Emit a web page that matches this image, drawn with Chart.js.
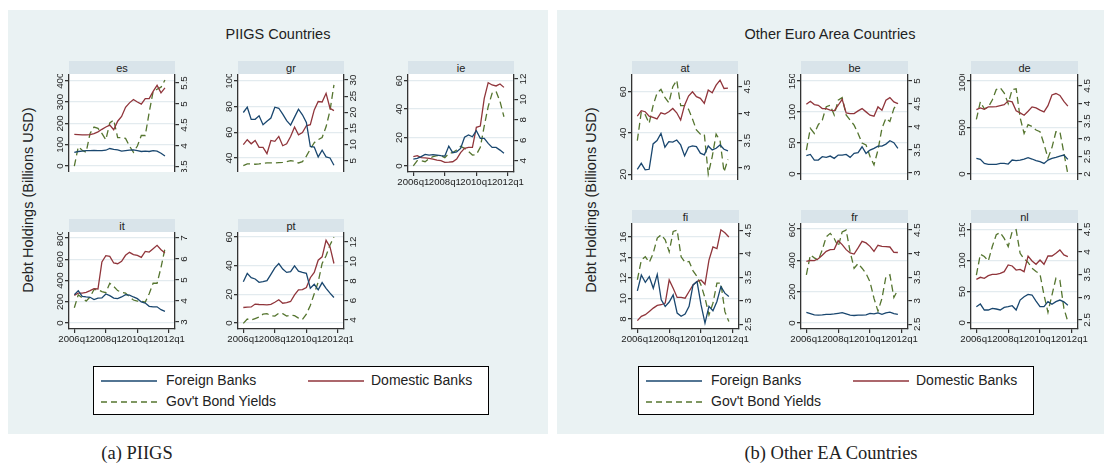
<!DOCTYPE html>
<html><head><meta charset="utf-8">
<script src="https://cdn.jsdelivr.net/npm/chart.js@4.4.1/dist/chart.umd.min.js"></script>
<style>
body{margin:0;width:1111px;height:476px;background:#fff;position:relative;overflow:hidden;font-family:"Liberation Sans",Arial,sans-serif;color:#222;}
.panel{position:absolute;background:#eaf2f3;}
.title{position:absolute;transform:translateX(-50%);font-size:14.5px;white-space:nowrap;}
.ytitle{position:absolute;transform:translate(-50%,-50%) rotate(-90deg);font-size:14.5px;white-space:nowrap;}
.strip{position:absolute;background:#d9e4ea;text-align:center;font-size:11px;line-height:14px;}
canvas{position:absolute;}
.legend{position:absolute;background:#fff;border:1px solid #000;box-sizing:border-box;}
.legend svg{position:absolute;}
.legend span{position:absolute;font-size:14px;white-space:nowrap;}
.caption{position:absolute;font-family:"Liberation Serif","DejaVu Serif",serif;font-size:18.5px;transform:translateX(-50%);white-space:nowrap;}
</style></head><body>
<script>
// Quarterly observations, 2006q1 - 2011q4
const quarters = ['2006q1','2006q2','2006q3','2006q4','2007q1','2007q2','2007q3','2007q4',
  '2008q1','2008q2','2008q3','2008q4','2009q1','2009q2','2009q3','2009q4',
  '2010q1','2010q2','2010q3','2010q4','2011q1','2011q2','2011q3','2011q4'];
const xTickPos = [0, 8, 16, 24];
const xTickLabels = ['2006q1','2008q1','2010q1','2012q1'];
const seriesNames = ['Foreign Banks', 'Domestic Banks', "Gov't Bond Yields"];

// Debt holdings (billions USD) and 10y government bond yields (%)
const esForeign  = [64,68,70,72,72,73,72,72,74,82,78,76,70,72,74,76,72,68,70,68,72,70,60,47];
const esDomestic = [148,147,146,146,147,152,160,172,183,192,170,210,232,275,296,312,300,290,316,316,350,378,343,366];
const esYield    = [3.52,3.98,3.9,3.85,4.3,4.45,4.42,4.3,4.15,4.55,4.62,4.2,4.2,4.18,4.0,3.85,4.0,4.25,4.25,4.8,5.3,5.35,5.4,5.57];
const esDebtTicks = [0,100,200,300,400];
const esYieldTicks = [3.5,4,4.5,5,5.5];

const grForeign  = [75.3,79.4,70,70,72.7,65.8,68.5,71,79.4,78.6,74,69,65.5,71.7,77.9,73.5,67.6,49,48.5,40.8,46,40.8,40,34.3];
const grDomestic = [50.3,54.2,51,53.6,48.2,48.2,43.3,53.6,52.9,56.7,49.5,51,56.7,64,58,59.8,65,65.8,77.3,83.8,83.5,90.2,78.6,76.8];
const grYield    = [3.5,4.0,4.0,3.9,4.0,4.2,4.3,4.3,4.3,4.4,4.5,4.7,5.0,4.8,4.3,4.7,6.4,8.6,10.6,11.5,12.2,15.5,20.5,28.5];
const grDebtTicks = [40,60,80,100];
const grYieldTicks = [5,10,15,20,25,30];

const ieForeign  = [4.9,5.4,6.6,8.2,7.7,8.0,7.7,7.3,7.0,14.0,9.4,10.0,12.4,20.2,21.8,20.6,24.8,19.5,19.5,15.9,13.1,13.1,11.2,8.9];
const ieDomestic = [6.6,7.3,5.9,5.8,5.4,4.8,4.2,3.8,2.6,2.7,3.0,4.9,9.4,12.4,13.1,13.1,27.2,28.1,47.6,58.6,57.0,56.3,57.7,55.3];
const ieYield    = [3.5,4.0,4.0,3.9,4.2,4.4,4.5,4.5,4.3,4.7,4.8,5.05,5.4,5.2,4.9,4.55,4.6,5.3,7.4,9.3,10.6,10.8,9.8,8.3];
const ieDebtTicks = [0,20,40,60];
const ieYieldTicks = [4,6,8,10,12];

const itForeign  = [267,304,251,245,242,220,235,236,273,257,235,229,245,267,262,245,229,198,188,157,151,152,125,110];
const itDomestic = [260,282,282,289,304,323,320,574,634,627,565,558,580,637,665,643,637,618,674,668,699,731,690,659];
const itYield    = [3.68,4.3,4.15,4.0,4.2,4.55,4.55,4.45,4.4,4.85,4.7,4.5,4.42,4.38,4.2,4.05,4.0,4.0,3.95,4.35,4.85,4.85,5.6,6.5];
const itDebtTicks = [0,200,400,600,800];
const itYieldTicks = [3,4,5,6,7];

const ptForeign  = [28.8,34.6,31.6,30.7,28.4,28.8,29.5,33.9,38.5,41.5,37.6,35.3,35.8,39.9,36.2,35.3,34.6,24.2,27,23.1,28.2,24.2,20.8,17.8];
const ptDomestic = [10.8,11.1,11.2,13.2,12.9,12.8,12.7,13.0,14.5,16.2,13.8,14.2,15.0,19.6,23.1,23.3,24.7,31.6,35.3,43.8,46.2,57.7,53.1,41.5];
const ptYield    = [3.66,4.1,4.0,4.15,4.3,4.6,4.65,4.45,4.4,4.7,4.65,4.4,4.5,4.45,4.2,4.05,4.6,5.5,6.7,7.9,9.8,10.6,11.7,12.5];
const ptDebtTicks = [0,20,40,60];
const ptYieldTicks = [4,6,8,10,12];

const atForeign  = [22.4,25.3,22.1,22.4,34.7,36.3,39.8,33.1,35.8,35.6,36.6,34.2,28.9,33.1,33.7,33.4,30.2,29.4,33.7,31.8,32.6,34.2,32.1,31.3];
const atDomestic = [48.2,50.8,50.3,48.2,47.6,46.8,49.8,49.2,50.3,51.9,49.8,46.3,53.5,57.9,60,57.6,56.8,54.4,60.8,59.5,63.2,65.6,61.6,61.8];
const atYield    = [3.5,4.03,3.98,3.82,4.15,4.38,4.45,4.3,4.2,4.5,4.62,4.15,4.15,4.08,3.9,3.7,3.62,3.62,2.88,3.2,3.62,3.5,2.92,3.15];
const atDebtTicks = [20,40,60];
const atYieldTicks = [3,3.5,4,4.5];

const beForeign  = [29.5,31.6,22.5,22.5,27.9,26.8,28.9,25.2,30.5,30.5,31.6,26.8,33.2,34.3,43.9,33.2,38.6,41.3,45,45,48.2,53.6,50.4,41.3];
const beDomestic = [112.5,117.3,112,110.9,105.5,105.5,102.9,101.8,110.9,120.5,98.6,97.5,97.5,101.8,105.5,100.2,94.8,93.2,108.2,102.9,118.9,123.2,116.3,113.6];
const beYield    = [3.5,3.97,3.86,4.05,4.15,4.44,4.47,4.26,4.58,4.64,4.26,4.15,4.04,3.86,3.65,3.61,3.36,3.18,3.5,3.97,4.19,4.12,4.4,4.52];
const beDebtTicks = [0,50,100,150];
const beYieldTicks = [3,3.5,4,4.5,5];

const deForeign  = [168,157,114,104,104,104,114,114,107,150,143,150,161,175,161,143,132,114,150,168,179,193,204,157];
const deDomestic = [693,711,696,721,721,725,735,746,786,775,679,657,632,675,721,711,686,668,735,850,865,845,780,730];
const deYield    = [3.55,4.05,3.85,3.9,4.1,4.4,4.45,4.3,4.0,4.4,4.42,3.6,3.15,3.4,3.35,3.25,3.2,2.85,2.45,2.75,3.2,3.2,2.6,2.0];
const deDebtTicks = [0,500,1000];
const deYieldTicks = [2,2.5,3,3.5,4,4.5];

const fiForeign  = [10.74,12.29,11.58,12.13,11.0,12.35,9.87,9.23,9.65,10.35,8.58,8.26,8.48,9.23,11.32,11.65,9.39,7.6,9.23,8.8,9.71,11.16,10.52,10.19];
const fiDomestic = [7.84,8.26,8.42,8.74,9.06,9.32,9.39,9.55,11.81,11.0,10.1,10.1,10.03,10.68,11.32,11.65,11.81,11.39,13.74,15.03,14.87,16.71,16.42,16.0];
const fiYield    = [3.45,3.87,3.94,3.82,4.02,4.34,4.41,4.3,4.05,4.48,4.51,3.94,3.82,3.84,3.64,3.52,3.34,3.06,2.7,2.95,3.38,3.38,2.77,2.56];
const fiDebtTicks = [8,10,12,14,16];
const fiYieldTicks = [2.5,3,3.5,4,4.5];

const frForeign  = [68,60,52,50,52,55,55,58,62,66,58,50,48,50,50,52,62,58,65,55,65,70,60,55];
const frDomestic = [394,400,398,410,432,457,468,470,525,500,468,447,440,479,521,511,489,457,496,489,487,485,451,450];
const frYield    = [3.55,3.97,3.91,3.86,4.08,4.36,4.43,4.32,4.15,4.46,4.5,4.04,3.69,3.79,3.69,3.58,3.4,3.05,2.78,3.05,3.51,3.55,3.07,3.23];
const frDebtTicks = [0,200,400,600];
const frYieldTicks = [2.5,3,3.5,4,4.5];

const nlForeign  = [25.7,30,20.4,20.4,23,22,20.4,24.6,25.7,27.3,20.4,36.4,41.8,45.5,44.5,34.8,25.7,25.7,33.8,29.5,33.8,36.4,33.5,28];
const nlDomestic = [69.6,72.9,71.3,75.5,77.7,77.7,79.3,82,92.7,91.1,84.6,85.7,82,107,99.1,93.8,100.7,93.8,107.1,107.1,111.4,116.8,108.8,106.1];
const nlYield    = [3.49,3.95,3.9,3.8,4.12,4.38,4.43,4.3,4.12,4.45,4.49,3.97,3.85,3.77,3.64,3.57,3.51,3.05,2.67,3.05,3.42,3.38,2.76,2.46];
const nlDebtTicks = [0,50,100,150];
const nlYieldTicks = [2.5,3,3.5,4,4.5];

// Page furniture
const COL = {foreign:'#1a476f', domestic:'#90353b', yield:'#55752f'};
function el(tag, cls, css, text){
  const e = document.createElement(tag);
  if (cls) e.className = cls;
  Object.assign(e.style, css || {});
  if (text !== undefined) e.textContent = text;
  document.body.appendChild(e);
  return e;
}
el('div','panel',{left:'8px',top:'10px',width:'540px',height:'424px'});
el('div','panel',{left:'557px',top:'10px',width:'547px',height:'424px'});
el('div','title',{left:'278px',top:'26px'},'PIIGS Countries');
el('div','title',{left:'830px',top:'26px'},'Other Euro Area Countries');
el('div','ytitle',{left:'28px',top:'200px'},'Debt Holdings (Billions USD)');
el('div','ytitle',{left:'591px',top:'200px'},'Debt Holdings (Billions USD)');
el('div','caption',{left:'137px',top:'443px'},'(a) PIIGS');
el('div','caption',{left:'831px',top:'443px'},'(b) Other EA Countries');

function legend(x, y){
  const box = el('div','legend',{left:x+'px',top:y+'px',width:'396px',height:'49px'});
  const items = [
    {c:COL.foreign, dash:'', lx:7, ly:14, tx:72, name:seriesNames[0]},
    {c:COL.domestic, dash:'', lx:214, ly:14, tx:277, name:seriesNames[1]},
    {c:COL.yield, dash:'6 4', lx:7, ly:35, tx:72, name:seriesNames[2]}
  ];
  items.forEach(it => {
    const s = document.createElementNS('http://www.w3.org/2000/svg','svg');
    s.setAttribute('width','56'); s.setAttribute('height','4');
    s.style.left = it.lx+'px'; s.style.top = (it.ly-2)+'px';
    s.innerHTML = `<line x1="0" y1="2" x2="56" y2="2" stroke="${it.c}" stroke-width="1.3" ${it.dash?`stroke-dasharray="${it.dash}"`:''}/>`;
    box.appendChild(s);
    const t = document.createElement('span');
    t.textContent = it.name; t.style.left = it.tx+'px'; t.style.top = (it.ly-9)+'px';
    box.appendChild(t);
  });
}
legend(93, 366);
legend(638, 366);

// Fill plot region white, then draw vertical tick labels on both y axes
const plotBg = {
  id:'plotBg',
  beforeDraw(chart){
    const a = chart.chartArea, ctx = chart.ctx;
    ctx.save(); ctx.fillStyle = '#fff'; ctx.fillRect(a.left, a.top, a.right-a.left, a.bottom-a.top); ctx.restore();
  }
};
const vTicks = {
  id:'vTicks',
  afterDraw(chart){
    const ctx = chart.ctx, a = chart.chartArea;
    ctx.save();
    ctx.font = '9.8px "Liberation Sans", Arial, sans-serif';
    ctx.fillStyle = '#222'; ctx.textAlign = 'center'; ctx.textBaseline = 'middle';
    [['y', a.left - 9], ['y2', a.right + 9]].forEach(([id, px]) => {
      const s = chart.scales[id];
      s.ticks.forEach(t => {
        const py = s.getPixelForValue(t.value);
        ctx.save(); ctx.translate(px, py); ctx.rotate(-Math.PI/2);
        ctx.fillText(String(t.value), 0, 0.5); ctx.restore();
      });
    });
    ctx.restore();
  }
};

function subplot(o){
  const W = o.R - o.L, H = o.B - o.T, side = 22, bottom = o.xAxis ? 20 : 0;
  el('div','strip',{left:o.L+'px',top:(o.T-13.5)+'px',width:W+'px',height:'13.5px'}, o.code);
  const cv = el('canvas','',{left:(o.L-side)+'px',top:o.T+'px'});
  cv.width = W + 2*side; cv.height = H + bottom;
  const pts = arr => arr.map((v,i)=>({x:i, y:v}));
  const fixTicks = vals => (scale => { scale.ticks = vals.map(v=>({value:v})); });
  new Chart(cv, {
    type:'line',
    data:{datasets:[
      {label:seriesNames[0], data:pts(o.foreign), yAxisID:'y', borderColor:COL.foreign, borderWidth:1.3},
      {label:seriesNames[1], data:pts(o.domestic), yAxisID:'y', borderColor:COL.domestic, borderWidth:1.3},
      {label:seriesNames[2], data:pts(o.yld), yAxisID:'y2', borderColor:COL.yield, borderWidth:1.3, borderDash:[7,4]}
    ]},
    options:{
      responsive:false, animation:false, devicePixelRatio:1,
      layout:{padding:0},
      elements:{point:{radius:0}, line:{tension:0}},
      plugins:{legend:{display:false}, tooltip:{enabled:false}},
      scales:{
        x:{type:'linear', min:-1.35, max:25.55, display:o.xAxis,
           afterBuildTicks:s=>{ s.ticks = xTickPos.map(v=>({value:v})); },
           afterFit:s=>{ s.height = bottom; },
           grid:{drawOnChartArea:false, drawTicks:true, tickLength:4, tickColor:'#333', lineWidth:1.2},
           border:{display:true, color:'#333', width:1.3},
           ticks:{autoSkip:false, maxRotation:0, padding:1, color:'#222',
             font:{family:'"Liberation Sans", Arial, sans-serif', size:9.6},
             callback:v=>xTickLabels[xTickPos.indexOf(v)]}},
        y:{type:'linear', position:'left', min:o.debt[0], max:o.debt[1],
           afterBuildTicks:fixTicks(o.debtTicks),
           afterFit:s=>{ s.width = side; },
           ticks:{display:false},
           grid:{drawOnChartArea:true, color:'#e3ebef', lineWidth:1.3, drawTicks:true, tickLength:4, tickColor:'#333'},
           border:{display:true, color:'#333', width:1.3}},
        y2:{type:'linear', position:'right', min:o.yieldR[0], max:o.yieldR[1],
           afterBuildTicks:fixTicks(o.yieldTicks),
           afterFit:s=>{ s.width = side; },
           ticks:{display:false},
           grid:{drawOnChartArea:false, drawTicks:true, tickLength:4, tickColor:'#333', lineWidth:1.2},
           border:{display:true, color:'#333', width:1.3}}
      }
    },
    plugins:[plotBg, vTicks]
  });
}

// Left panel: PIIGS
const lTop = {T:74, B:172}, lBot = {T:232, B:329};
subplot({code:'es', L:69, R:175, ...lTop, xAxis:false, foreign:esForeign, domestic:esDomestic, yld:esYield,
  debt:[-28.1,431.4], yieldR:[3.381,5.714], debtTicks:esDebtTicks, yieldTicks:esYieldTicks});
subplot({code:'gr', L:238, R:344, ...lTop, xAxis:false, foreign:grForeign, domestic:grDomestic, yld:grYield,
  debt:[29.1,105.2], yieldR:[1.5,31.86], debtTicks:grDebtTicks, yieldTicks:grYieldTicks});
subplot({code:'ie', L:408, R:514, ...lTop, xAxis:true, foreign:ieForeign, domestic:ieDomestic, yld:ieYield,
  debt:[-4.2,64.7], yieldR:[2.89,12.49], debtTicks:ieDebtTicks, yieldTicks:ieYieldTicks});
subplot({code:'it', L:69, R:175, ...lBot, xAxis:true, foreign:itForeign, domestic:itDomestic, yld:itYield,
  debt:[-56.5,856.5], yieldR:[2.67,7.29], debtTicks:itDebtTicks, yieldTicks:itYieldTicks});
subplot({code:'pt', L:238, R:344, ...lBot, xAxis:true, foreign:ptForeign, domestic:ptDomestic, yld:ptYield,
  debt:[-4.2,63.5], yieldR:[3.08,13.03], debtTicks:ptDebtTicks, yieldTicks:ptYieldTicks});

// Right panel: other euro area countries
const rTop = {T:74, B:180}, rBot = {T:223, B:329};
subplot({code:'at', L:632, R:738, ...rTop, xAxis:false, foreign:atForeign, domestic:atDomestic, yld:atYield,
  debt:[17.2,68.6], yieldR:[2.77,4.735], debtTicks:atDebtTicks, yieldTicks:atYieldTicks});
subplot({code:'be', L:801, R:908, ...rTop, xAxis:false, foreign:beForeign, domestic:beDomestic, yld:beYield,
  debt:[-9.7,161.3], yieldR:[2.85,5.15], debtTicks:beDebtTicks, yieldTicks:beYieldTicks});
subplot({code:'de', L:971, R:1078, ...rTop, xAxis:false, foreign:deForeign, domestic:deDomestic, yld:deYield,
  debt:[-64.5,1075], yieldR:[1.83,4.84], debtTicks:deDebtTicks, yieldTicks:deYieldTicks});
subplot({code:'fi', L:632, R:739, ...rBot, xAxis:true, foreign:fiForeign, domestic:fiDomestic, yld:fiYield,
  debt:[7.02,17.37], yieldR:[2.4,4.66], debtTicks:fiDebtTicks, yieldTicks:fiYieldTicks});
subplot({code:'fr', L:801, R:908, ...rBot, xAxis:true, foreign:frForeign, domestic:frDomestic, yld:frYield,
  debt:[-38,638], yieldR:[2.4,4.65], debtTicks:frDebtTicks, yieldTicks:frYieldTicks});
subplot({code:'nl', L:971, R:1078, ...rBot, xAxis:true, foreign:nlForeign, domestic:nlDomestic, yld:nlYield,
  debt:[-10.1,160.1], yieldR:[2.3,4.64], debtTicks:nlDebtTicks, yieldTicks:nlYieldTicks});
</script>
</body></html>
